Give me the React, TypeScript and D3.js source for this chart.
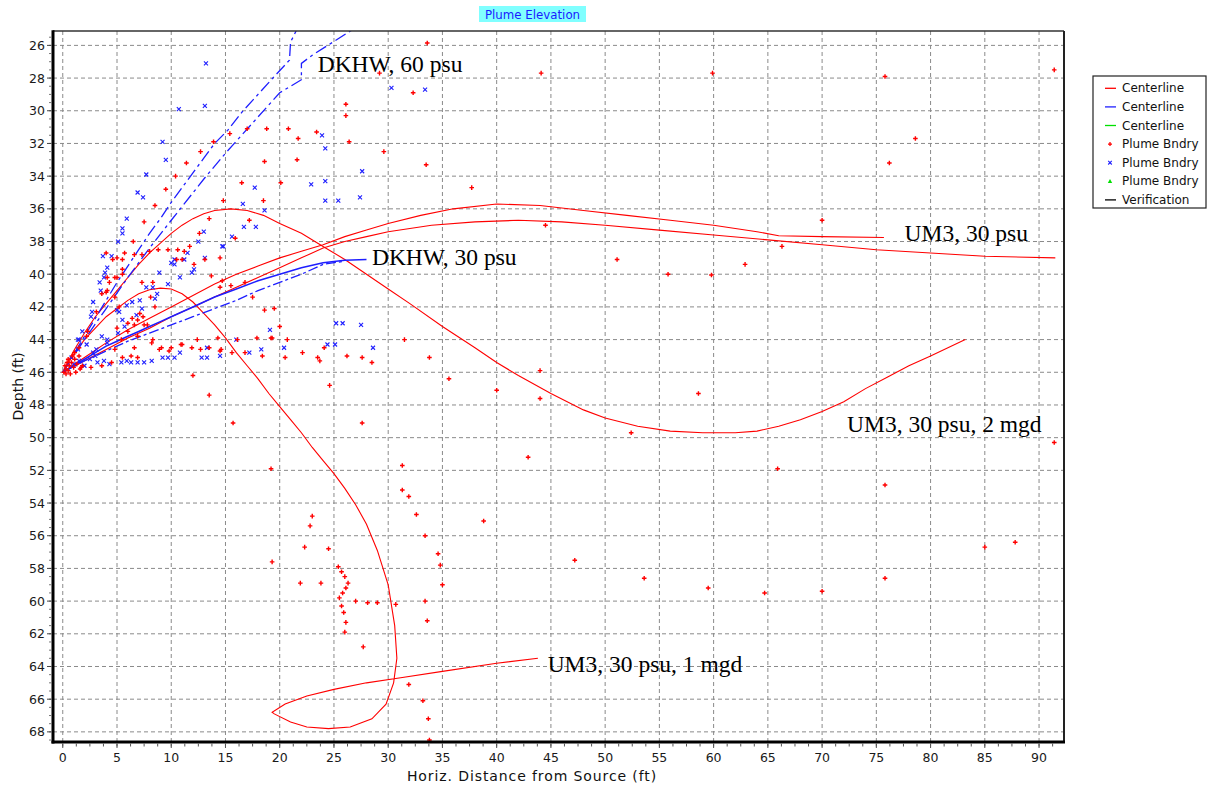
import React from 'react';
import * as d3 from 'd3';

type Pt = [number, number];

// Axis ticks
const xTicks = [0, 5, 10, 15, 20, 25, 30, 35, 40, 45, 50, 55, 60, 65, 70, 75, 80, 85, 90];
const yTicks = [26, 28, 30, 32, 34, 36, 38, 40, 42, 44, 46, 48, 50, 52, 54, 56, 58, 60, 62, 64, 66, 68];

// UM3 centerlines (red)
const um3Psu30A: Pt[] = [
  [0, 46], [2, 45.1], [4, 44.2], [6, 43.4], [8, 42.7], [10, 42.0], [12, 41.3], [14, 40.6], [16, 40.0],
  [18, 39.5], [20, 39.0], [22, 38.6], [24, 38.2], [26, 37.7], [28, 37.3], [30, 36.9], [33, 36.4], [36, 36.0],
  [40, 35.7], [44, 35.8], [48, 36.1], [52, 36.4], [56, 36.7], [60, 37.0], [64, 37.4], [66, 37.65], [70, 37.7],
  [75.7, 37.75],
];
const um3Psu30B: Pt[] = [
  [0, 46], [2, 45.3], [4, 44.6], [6, 43.9], [8, 43.3], [10, 42.6], [12, 42.0], [14, 41.4], [16, 40.8],
  [18, 40.2], [20, 39.6], [22, 39.0], [24, 38.4], [26, 38.0], [28, 37.7], [30, 37.4], [34, 37.0], [38, 36.8],
  [42, 36.7], [46, 36.8], [50, 37.0], [55, 37.3], [60, 37.6], [65, 37.9], [70, 38.2], [75, 38.5], [80, 38.7],
  [85, 38.9], [91.5, 39.0],
];
const um3Mgd2: Pt[] = [
  [0, 46], [1, 44.7], [2, 43.6], [3, 42.6], [4, 41.8], [5, 41.0], [6, 40.2], [7, 39.4], [8, 38.7], [9, 38.1],
  [10, 37.5], [11, 37.0], [12, 36.6], [13, 36.3], [14, 36.1], [15.5, 36.0], [17, 36.1], [18.5, 36.4], [20, 36.9],
  [22, 37.5], [24, 38.3], [26, 39.1], [28, 40.0], [30, 40.9], [32, 41.8], [35, 43.2], [38, 44.5], [40, 45.4],
  [42, 46.2], [45, 47.3], [48, 48.3], [50, 48.8], [53, 49.3], [56, 49.6], [59, 49.7], [62, 49.7], [64, 49.6],
  [66, 49.3], [68, 48.9], [70, 48.4], [72, 47.8], [74, 47.0], [76, 46.3], [78, 45.6], [80, 45.0], [83.2, 44.0],
];
const um3Mgd1: Pt[] = [
  [0, 46], [1, 44.9], [2, 44.0], [3, 43.3], [4, 42.6], [5, 42.1], [6, 41.6], [7, 41.2], [8, 40.95], [9, 40.85],
  [10, 40.9], [11, 41.2], [12, 41.7], [13, 42.4], [14, 43.1], [15, 43.9], [16, 44.8], [17, 45.6], [18, 46.4],
  [19, 47.3], [20, 48.1], [21, 48.9], [22, 49.7], [23, 50.6], [24, 51.4], [25, 52.2], [26, 53.1], [27, 54.1],
  [28, 55.3], [29, 56.9], [30, 59.0], [30.6, 61.5], [30.8, 63.5], [30.5, 65.0], [29.8, 66.3], [28.5, 67.2],
  [26.5, 67.7], [24.5, 67.8], [22.5, 67.7], [21, 67.4], [19.5, 66.9], [19.3, 66.8], [20.5, 66.3], [22.5, 65.8],
  [25, 65.4], [28, 65.0], [31, 64.7], [35, 64.3], [40, 63.8], [43.8, 63.5],
];

// DKHW centerlines (blue)
const dkhw60A: Pt[] = [
  [0, 46], [1, 44.9], [2, 43.8], [3, 42.7], [4, 41.6], [5, 40.5], [6, 39.5], [7, 38.5], [8, 37.5], [9, 36.6],
  [10, 35.6], [11, 34.7], [12, 33.8], [13, 32.9], [14, 32.0], [15.2, 31.2], [16.5, 30.1], [18, 29.0],
  [19.5, 27.9], [20.9, 26.9], [21.0, 25.8], [21.6, 25.0],
];
const dkhw60B: Pt[] = [
  [0, 46], [2, 44.0], [4, 42.1], [6, 40.2], [8, 38.4], [10, 36.7], [13.1, 34.1], [15, 32.6], [17.7, 30.6],
  [20, 28.9], [22.0, 28.1], [22.0, 27.1], [23, 26.6], [26.8, 25.0],
];
const dkhw30A: Pt[] = [
  [0, 46], [1, 45.6], [2, 45.2], [3, 44.8], [4, 44.4], [5, 44.1], [6, 43.8], [7, 43.5], [8, 43.2], [9, 42.9],
  [10, 42.6], [12, 42.0], [14, 41.4], [16, 40.9], [18, 40.4], [20, 40.0], [22, 39.6], [24, 39.3], [26, 39.15],
  [28, 39.1],
];
const dkhw30B: Pt[] = [
  [0, 46], [2, 45.3], [4, 44.7], [6, 44.1], [8, 43.6], [10, 43.1], [12, 42.6], [14, 42.1], [16, 41.6],
  [18, 41.0], [20, 40.5], [22, 40.0], [24, 39.4], [26, 39.2],
];

// UM3 plume boundary points (red +)
const redBndry: Pt[] = [
  [0.1, 46.0], [0.3, 45.8], [0.5, 45.9], [0.6, 45.6], [0.8, 45.4], [1.0, 45.7], [1.1, 45.2], [1.3, 45.5],
  [0.4, 45.4], [0.9, 45.0], [1.5, 45.0], [0.2, 45.6], [0.7, 46.1], [1.2, 46.0], [1.6, 45.8], [0.5, 45.2],
  [1.8, 45.6], [0.3, 46.1], [1.5, 44.5], [1.1, 44.8], [2.2, 43.8], [2.3, 43.5], [3.1, 42.3], [4.0, 41.1],
  [4.3, 40.5], [4.8, 40.2], [5.5, 40.0], [5.0, 39.0], [5.7, 38.7], [6.6, 38.8], [7.3, 38.8], [1.7, 45.7],
  [2.6, 45.7], [3.6, 45.6], [4.5, 45.4], [5.5, 45.1],
  [26.1, 29.6], [26.1, 30.3], [26.4, 31.9], [23.4, 31.3], [20.8, 31.1], [18.8, 31.1], [17.0, 31.1],
  [21.7, 31.7], [21.6, 33.0], [18.6, 33.1], [20.1, 34.4], [16.5, 34.4], [18.5, 35.5], [14.8, 35.5],
  [17.2, 36.7], [15.9, 37.8], [12.6, 37.5], [13.5, 36.6], [12.7, 32.5], [11.4, 33.2], [13.9, 31.9],
  [15.4, 31.4], [10.4, 34.0], [9.5, 34.8], [8.5, 35.8], [7.5, 36.8], [6.5, 38.0], [8.0, 38.6], [8.8, 38.5],
  [9.7, 38.5], [10.6, 38.5], [11.2, 38.6], [11.7, 38.3], [10.5, 39.1], [11.0, 39.1], [12.1, 39.4],
  [13.1, 39.1], [14.5, 39.0], [13.7, 40.1], [14.7, 40.4], [14.5, 40.8], [15.5, 40.7], [16.8, 40.5],
  [17.5, 41.4], [18.6, 42.2], [19.5, 42.1], [20.0, 43.2], [19.2, 43.9], [17.9, 43.9], [16.1, 44.0],
  [14.5, 44.7], [12.7, 44.6], [11.0, 44.3], [9.8, 44.7], [9.1, 44.5], [8.3, 44.0], [7.8, 43.1], [8.5, 42.0],
  [8.1, 41.4], [7.3, 40.5], [6.9, 42.8], [6.0, 43.0], [5.2, 42.0], [4.8, 41.4], [4.1, 41.0], [4.1, 40.2],
  [5.0, 40.2], [5.5, 39.7], [5.5, 39.1], [4.6, 39.1], [4.0, 38.7], [3.6, 41.2], [6.0, 43.5], [6.6, 43.1],
  [7.5, 43.1], [7.4, 42.6], [7.1, 42.4],
  [8.3, 40.5], [6.4, 42.7], [5.0, 43.3], [6.9, 43.8], [8.2, 44.2], [6.6, 44.5], [5.4, 44.0], [4.8, 44.6],
  [6.3, 45.0], [6.9, 45.1], [8.9, 44.6], [10.0, 44.5], [10.9, 44.3], [11.9, 44.5], [12.4, 44.0], [13.5, 44.5],
  [14.3, 43.9], [14.6, 44.6], [15.6, 44.8], [16.8, 44.8], [18.4, 45.0], [19.3, 43.9], [20.5, 45.1],
  [20.7, 44.0], [22.1, 44.8], [23.5, 45.1], [23.7, 45.3], [24.1, 44.5], [24.6, 46.8], [26.2, 45.0],
  [27.6, 45.1], [28.5, 45.4], [12.0, 46.2], [13.5, 47.4], [15.7, 49.1], [27.6, 49.1], [19.2, 51.9],
  [33.6, 25.85], [44.1, 27.7], [59.9, 27.7], [75.8, 27.9], [91.4, 27.5], [78.6, 31.7], [76.2, 33.2],
  [70.0, 36.7], [66.3, 38.3], [62.9, 39.4], [51.1, 39.1], [55.8, 40.0], [59.8, 40.05], [44.5, 37.0],
  [37.7, 34.7], [33.5, 33.3], [32.3, 28.9], [29.2, 27.7], [29.6, 32.5], [40.0, 47.1], [44.0, 47.6],
  [44.0, 45.9], [31.5, 44.0], [33.8, 45.1], [35.6, 46.4], [42.9, 51.2], [58.6, 47.3], [65.9, 51.9],
  [91.4, 50.3], [75.8, 52.9], [75.8, 58.6], [85.0, 56.7], [87.8, 56.4], [70.0, 59.4], [64.7, 59.5],
  [59.5, 59.2], [53.6, 58.6], [47.2, 57.5], [38.8, 55.1], [52.4, 49.7],
  [25.4, 57.9], [25.7, 58.2], [26.0, 58.5], [26.3, 58.9], [26.1, 59.2], [25.8, 59.5], [25.5, 59.8],
  [25.7, 60.3], [25.9, 60.7], [26.1, 61.3], [26.0, 61.9], [27.0, 60.0], [28.1, 60.1], [29.0, 60.1],
  [30.7, 60.2], [27.7, 62.8], [24.5, 56.8], [23.0, 54.8], [22.8, 55.4], [22.3, 56.7], [21.9, 58.9],
  [23.8, 58.9], [19.3, 57.6], [31.3, 51.7], [31.3, 53.2], [31.9, 53.6], [32.6, 54.7], [33.4, 56.0],
  [34.6, 57.1], [34.8, 57.8], [35.0, 59.0], [33.4, 60.0], [33.6, 61.2], [31.9, 65.1], [33.2, 66.1],
  [33.7, 67.2], [33.8, 68.5],
];

// DKHW plume boundary points (blue x)
const blueBndry: Pt[] = [
  [13.2, 27.1], [10.7, 29.9], [13.1, 29.7], [9.2, 31.9], [9.5, 33.0], [7.7, 33.9], [6.9, 35.0], [7.4, 35.3],
  [5.9, 36.6], [5.5, 37.2], [5.5, 37.5], [5.1, 38.0], [4.5, 38.9], [4.1, 39.6], [3.8, 40.2], [3.5, 41.0],
  [2.8, 41.7], [2.6, 42.6], [1.8, 43.5], [1.4, 44.0], [23.9, 31.5], [24.2, 32.3], [27.6, 33.7], [22.9, 34.5],
  [24.2, 34.3], [17.7, 34.7], [24.2, 35.5], [25.4, 35.5], [27.4, 35.3], [16.6, 35.7], [18.6, 36.1],
  [16.7, 37.1], [17.8, 37.1], [15.6, 37.7], [14.8, 38.3], [13.0, 37.4], [12.5, 38.0], [10.3, 39.4],
  [3.7, 38.9], [3.9, 39.9], [3.4, 40.5], [2.7, 42.3], [1.5, 44.0], [1.4, 44.6], [3.6, 43.8], [4.1, 44.0],
  [3.1, 44.6], [3.2, 45.4], [5.0, 42.2], [5.2, 42.3], [5.9, 41.9], [6.4, 41.7], [7.1, 41.6], [7.3, 42.1],
  [6.8, 42.5], [5.5, 42.8], [5.7, 43.2], [5.1, 43.6], [4.1, 44.2], [7.7, 40.8], [8.3, 40.8], [8.7, 41.2],
  [8.5, 41.5], [9.7, 40.6], [8.9, 39.9], [10.0, 39.3], [10.3, 39.1], [10.8, 40.2], [11.2, 39.1], [11.5, 38.7],
  [11.9, 39.9], [12.1, 39.7], [13.1, 39.0], [14.7, 38.3], [5.4, 45.4], [5.9, 45.3], [6.3, 45.4], [6.9, 45.4],
  [7.5, 45.4], [8.2, 45.3], [9.2, 45.1], [9.7, 45.1], [10.3, 45.1], [10.8, 44.8], [12.8, 45.1], [13.3, 45.1],
  [13.3, 44.5], [14.5, 45.0], [16.0, 44.0], [17.2, 44.8], [18.3, 44.6], [19.1, 43.4], [20.4, 44.5],
  [24.4, 44.3], [25.1, 44.3], [25.2, 43.0], [25.8, 43.0], [27.5, 43.1], [28.6, 44.5], [30.3, 28.6],
  [33.4, 28.7], [2.0, 45.6], [2.5, 45.2], [3.0, 45.0], [1.5, 45.3], [2.2, 44.3], [2.8, 44.8], [1.0, 45.5],
  [0.8, 45.1], [4.3, 45.5], [3.8, 45.3],
];

// Text annotations (data coordinates, left-anchored, vertically centred)
const annotations: { text: string; x: number; y: number }[] = [
  { text: 'DKHW, 60 psu', x: 23.5, y: 27.13 },
  { text: 'UM3, 30 psu', x: 77.6, y: 37.48 },
  { text: 'DKHW, 30 psu', x: 28.5, y: 38.95 },
  { text: 'UM3, 30 psu, 2 mgd', x: 72.3, y: 49.18 },
  { text: 'UM3, 30 psu, 1 mgd', x: 44.7, y: 63.87 },
];

const legendItems: { label: string; kind: 'line' | 'plus' | 'x' | 'tri'; color: string }[] = [
  { label: 'Centerline', kind: 'line', color: '#ff0000' },
  { label: 'Centerline', kind: 'line', color: '#2020ff' },
  { label: 'Centerline', kind: 'line', color: '#00e000' },
  { label: 'Plume Bndry', kind: 'plus', color: '#ff0000' },
  { label: 'Plume Bndry', kind: 'x', color: '#2020ff' },
  { label: 'Plume Bndry', kind: 'tri', color: '#00e000' },
  { label: 'Verification', kind: 'line', color: '#000000' },
];

const W = 1209;
const H = 789;
const plot = { left: 53, right: 1064, top: 31, bottom: 742 };

const RED = '#ff0000';
const BLUE = '#1e1eff';
const SANS = '"DejaVu Sans", Verdana, sans-serif';

export default function App() {
  const x = d3.scaleLinear().domain([-0.9, 92.3]).range([plot.left, plot.right]);
  const y = d3.scaleLinear().domain([25.12, 68.62]).range([plot.top, plot.bottom]);
  const line = d3
    .line<Pt>()
    .x((d) => x(d[0]))
    .y((d) => y(d[1]));

  const xMinor: number[] = [];
  for (let v = -0.0; v <= 92.3; v += 1.25) xMinor.push(v);
  const yMinor: number[] = [];
  for (let v = 25.5; v <= 68.6; v += 0.5) yMinor.push(v);

  const curves: { pts: Pt[]; color: string; dash?: string; w: number }[] = [
    { pts: um3Psu30A, color: RED, w: 1.1 },
    { pts: um3Psu30B, color: RED, w: 1.1 },
    { pts: um3Mgd2, color: RED, w: 1.1 },
    { pts: um3Mgd1, color: RED, w: 1.1 },
    { pts: dkhw60A, color: BLUE, w: 1.3, dash: '12,4,3,4' },
    { pts: dkhw60B, color: BLUE, w: 1.3, dash: '12,4,3,4' },
    { pts: dkhw30A, color: BLUE, w: 1.6 },
    { pts: dkhw30B, color: BLUE, w: 1.3, dash: '10,3,3,3' },
  ];

  const lgX = 1093;
  const lgY = 76;
  const lgRow = 18.6;

  return (
    <svg
      width={W}
      height={H}
      viewBox={`0 0 ${W} ${H}`}
      style={{ position: 'absolute', left: 0, top: 0, background: '#ffffff' }}
    >
      <defs>
        <clipPath id="plotClip">
          <rect x={plot.left} y={plot.top} width={plot.right - plot.left} height={plot.bottom - plot.top} />
        </clipPath>
      </defs>

      {/* title */}
      <rect x={479} y={6} width={107} height={16} fill="#80ffff" />
      <text x={532.5} y={14.5} textAnchor="middle" dominantBaseline="central" fontFamily={SANS} fontSize={11.8} fill="#1a1aff">
        Plume Elevation
      </text>

      {/* grid */}
      <g stroke="#8a8a8a" strokeWidth={1} strokeDasharray="4,3">
        {xTicks.map((t) => (
          <line key={'gx' + t} x1={x(t)} x2={x(t)} y1={plot.top} y2={plot.bottom} />
        ))}
        {yTicks.map((t) => (
          <line key={'gy' + t} x1={plot.left} x2={plot.right} y1={y(t)} y2={y(t)} />
        ))}
      </g>

      {/* curves and scatter */}
      <g clipPath="url(#plotClip)">
        {curves.map((c, i) => (
          <path key={'c' + i} d={line(c.pts) || ''} fill="none" stroke={c.color} strokeWidth={c.w} strokeDasharray={c.dash} />
        ))}
        <g stroke={BLUE} strokeWidth={1.1}>
          {blueBndry.map((p, i) => (
            <path key={'b' + i} transform={`translate(${x(p[0])},${y(p[1])})`} d="M-2,-2L2,2M-2,2L2,-2" />
          ))}
        </g>
        <g stroke={RED} strokeWidth={1.4}>
          {redBndry.map((p, i) => (
            <path key={'r' + i} transform={`translate(${x(p[0])},${y(p[1])})`} d="M-2.3,0H2.3M0,-2.3V2.3" />
          ))}
        </g>
      </g>

      {/* frame */}
      <line x1={plot.left} x2={plot.right} y1={plot.top} y2={plot.top} stroke="#333" strokeWidth={1.5} />
      <line x1={plot.right} x2={plot.right} y1={plot.top} y2={plot.bottom} stroke="#222" strokeWidth={2} />
      <line x1={plot.left} x2={plot.left} y1={plot.top - 0.75} y2={plot.bottom + 1.5} stroke="#000" strokeWidth={3} />
      <line x1={plot.left - 1.5} x2={plot.right + 1} y1={plot.bottom} y2={plot.bottom} stroke="#000" strokeWidth={3} />

      {/* x ticks */}
      <g stroke="#555" strokeWidth={1}>
        {xMinor.map((t, i) => (
          <line key={'xm' + i} x1={x(t)} x2={x(t)} y1={plot.bottom + 1.5} y2={plot.bottom + 4.5} />
        ))}
        {xTicks.map((t) => (
          <line key={'xt' + t} x1={x(t)} x2={x(t)} y1={plot.bottom + 1.5} y2={plot.bottom + 6} />
        ))}
      </g>
      <g fontFamily={SANS} fontSize={12.5} fill="#1a1a1a" textAnchor="middle">
        {xTicks.map((t) => (
          <text key={'xl' + t} x={x(t)} y={757} dominantBaseline="central">
            {t}
          </text>
        ))}
      </g>

      {/* y ticks */}
      <g stroke="#777" strokeWidth={1}>
        {yMinor.map((t, i) => (
          <line key={'ym' + i} x1={plot.left - 4} x2={plot.left - 1.5} y1={y(t)} y2={y(t)} />
        ))}
        {yTicks.map((t) => (
          <line key={'yt' + t} x1={plot.left - 6} x2={plot.left - 1.5} y1={y(t)} y2={y(t)} stroke="#444" />
        ))}
      </g>
      <g fontFamily={SANS} fontSize={12.5} fill="#1a1a1a" textAnchor="end">
        {yTicks.map((t) => (
          <text key={'yl' + t} x={45} y={y(t)} dominantBaseline="central">
            {t}
          </text>
        ))}
      </g>

      {/* axis titles */}
      <text
        x={532}
        y={776}
        textAnchor="middle"
        dominantBaseline="central"
        fontFamily={SANS}
        fontSize={14}
        letterSpacing={0.9}
        fill="#111"
      >
        Horiz. Distance from Source (ft)
      </text>
      <text
        transform={`translate(18,${(plot.top + plot.bottom) / 2}) rotate(-90)`}
        textAnchor="middle"
        dominantBaseline="central"
        fontFamily={SANS}
        fontSize={14}
        fill="#111"
      >
        Depth (ft)
      </text>

      {/* annotations */}
      <g fontFamily='"Liberation Serif", "Times New Roman", serif' fontSize={23.5} fill="#000">
        {annotations.map((a, i) => (
          <text key={'a' + i} x={x(a.x)} y={y(a.y)} dominantBaseline="central">
            {a.text}
          </text>
        ))}
      </g>

      {/* legend */}
      <rect x={lgX} y={lgY} width={113} height={132} fill="#fff" stroke="#222" strokeWidth={1.2} />
      {legendItems.map((it, i) => {
        const cy = lgY + 12.3 + i * lgRow;
        const mx = lgX + 17;
        let mark: React.ReactNode = null;
        if (it.kind === 'line') {
          mark = <line x1={lgX + 12} x2={lgX + 23} y1={cy} y2={cy} stroke={it.color} strokeWidth={1.3} />;
        } else if (it.kind === 'plus') {
          mark = <path transform={`translate(${mx},${cy})`} d="M-2,0H2M0,-2V2" stroke={it.color} strokeWidth={1.3} />;
        } else if (it.kind === 'x') {
          mark = <path transform={`translate(${mx},${cy})`} d="M-1.8,-1.8L1.8,1.8M-1.8,1.8L1.8,-1.8" stroke={it.color} strokeWidth={1.1} />;
        } else {
          mark = <path transform={`translate(${mx},${cy})`} d="M0,-2.2L2.2,1.8H-2.2Z" fill={it.color} />;
        }
        return (
          <g key={'lg' + i}>
            {mark}
            <text x={lgX + 29} y={cy} dominantBaseline="central" fontFamily={SANS} fontSize={12} fill="#111">
              {it.label}
            </text>
          </g>
        );
      })}
    </svg>
  );
}
